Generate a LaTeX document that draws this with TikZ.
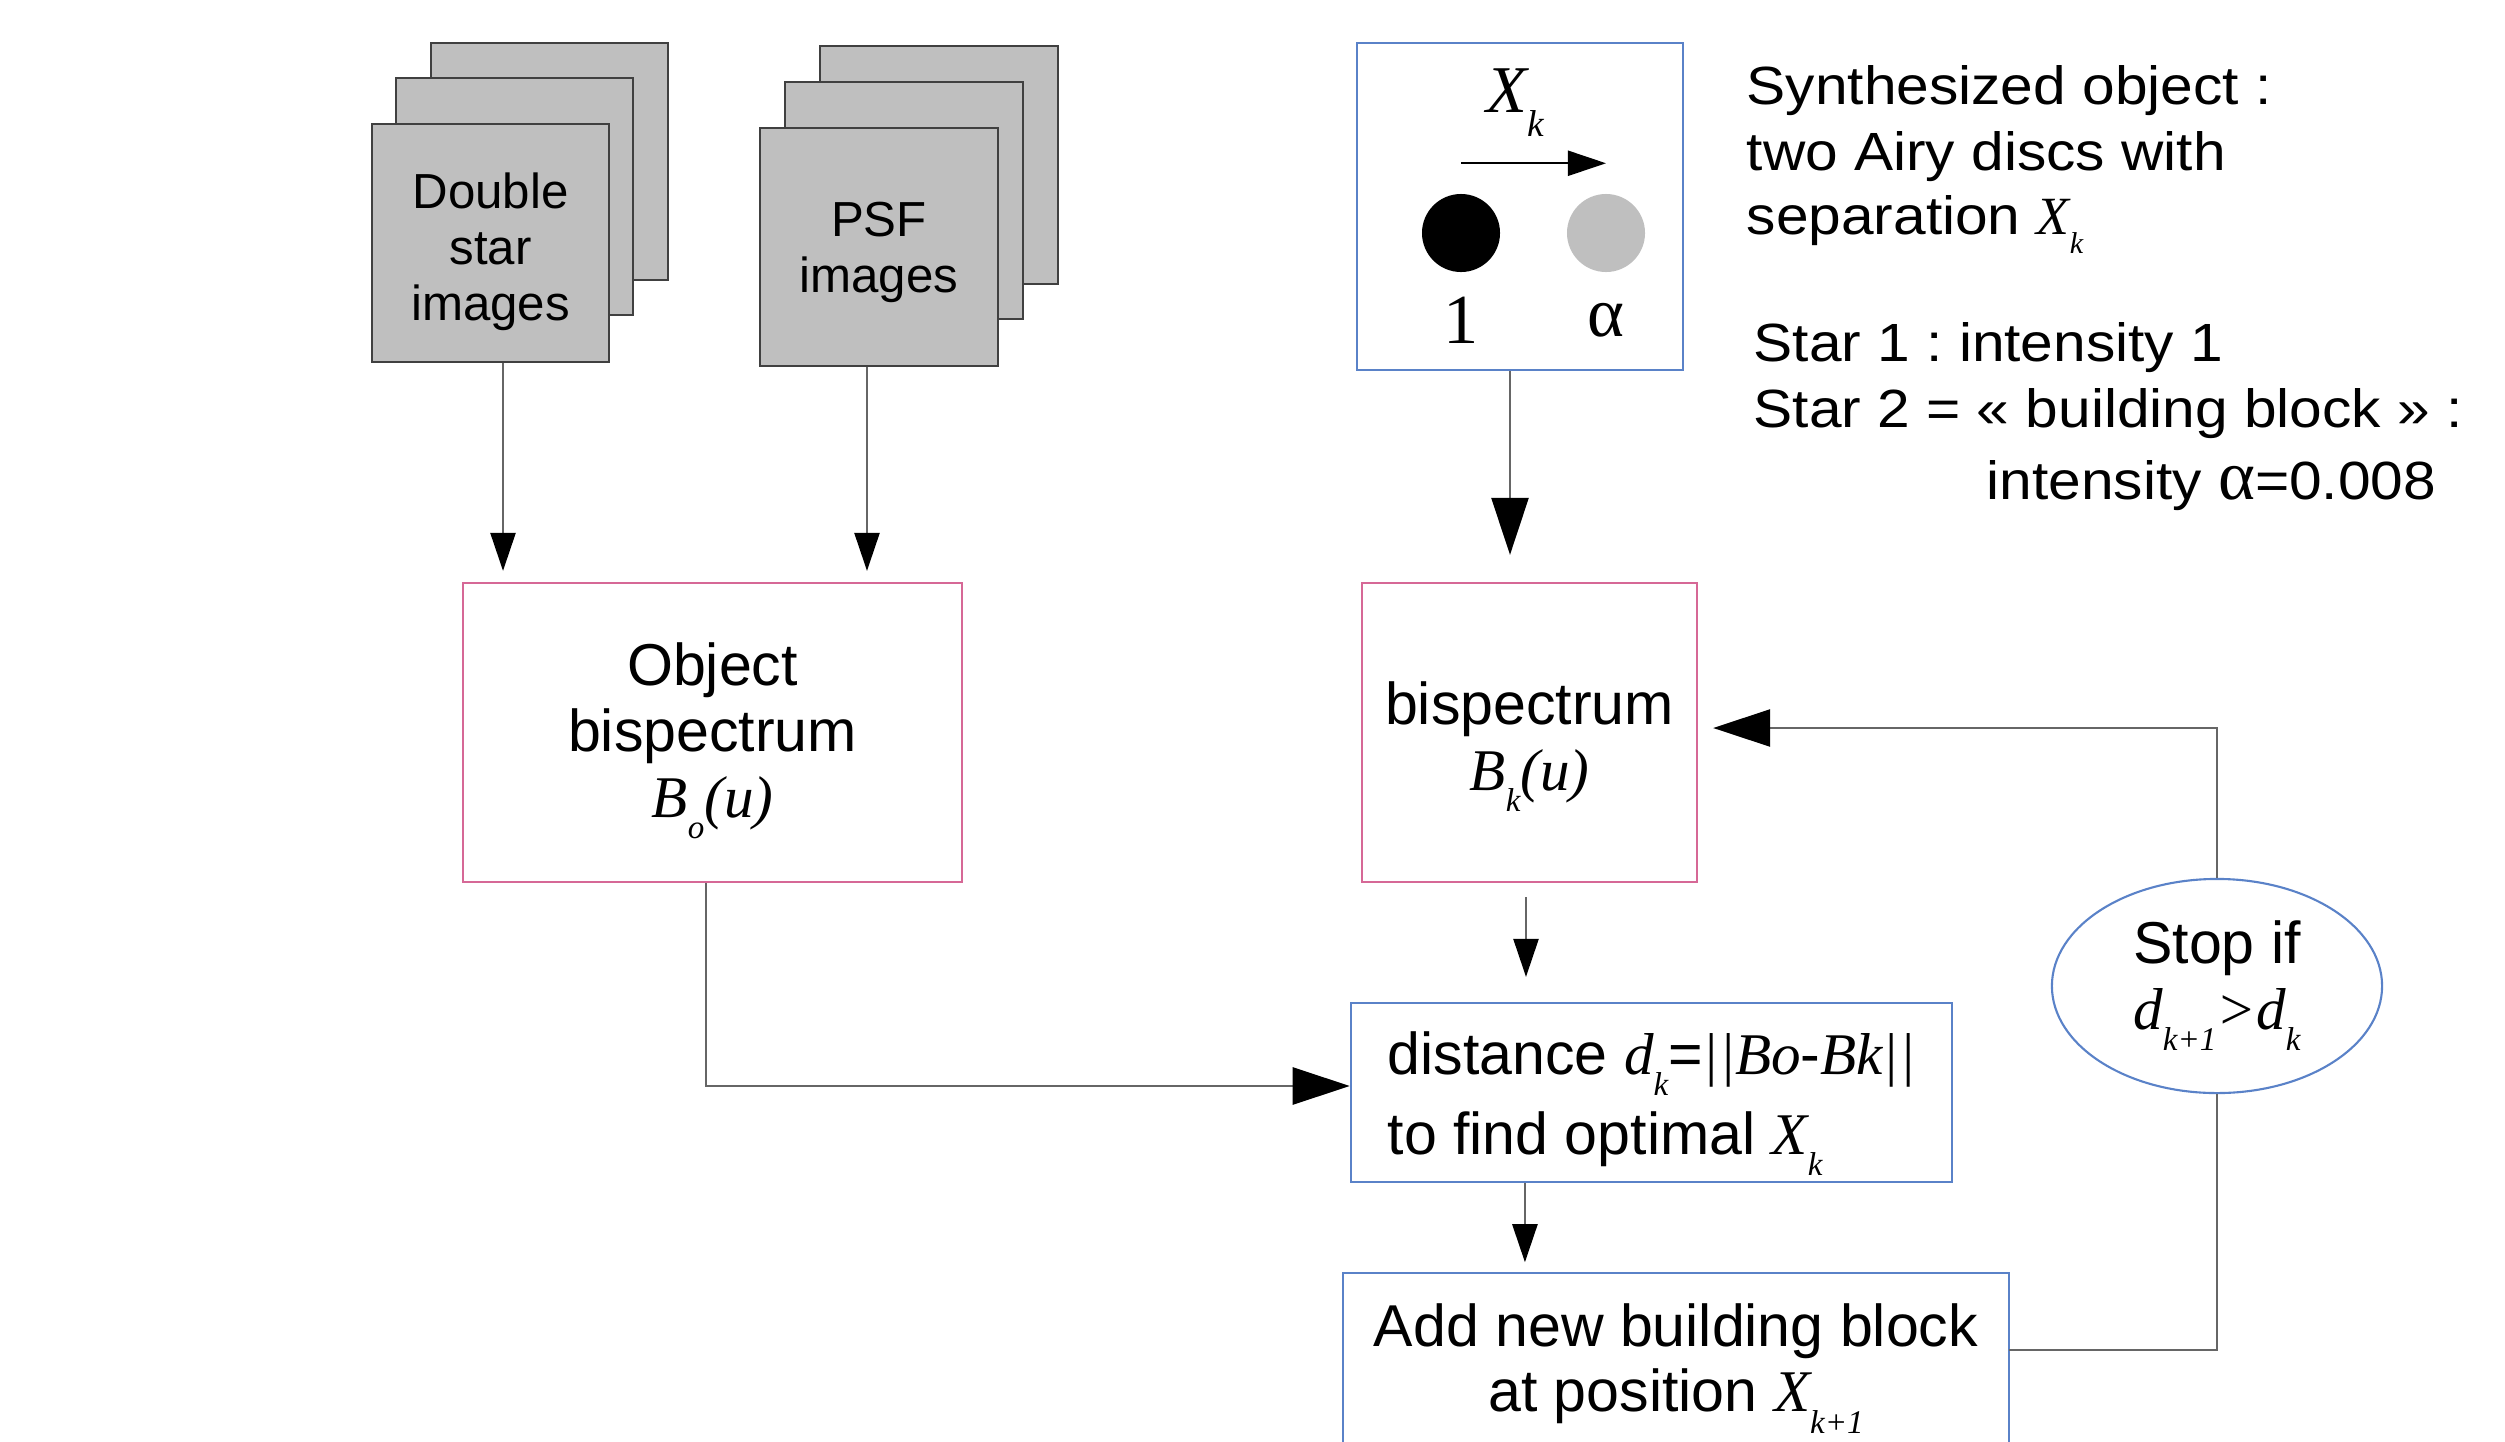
\documentclass[tikz,border=0pt]{standalone}
\usepackage{fontspec}
\usepackage{graphicx}
\setmainfont{Liberation Sans}
\newfontfamily\serif{Liberation Serif}
\newfontfamily\descfont{Liberation Sans}[FakeStretch=1.09]
\usetikzlibrary{arrows.meta,shapes.geometric,positioning}
\definecolor{pinkline}{RGB}{214,104,150}
\definecolor{blueline}{RGB}{90,130,200}
\newcommand{\ivar}[2]{{\serif\itshape #1}\raisebox{-0.36em}{\scalebox{0.56}{\serif\itshape #2}}}
\newcommand{\sit}[1]{{\serif\itshape #1}}
\newcommand{\push}[1]{\rule{0pt}{\dimexpr0.73em+#1\relax}}
\newcommand{\bigtxt}{\fontsize{16.8pt}{18.7pt}\selectfont}
\newcommand{\smalltxt}{\fontsize{14pt}{15.9pt}\selectfont}
\frenchspacing
\begin{document}
\begin{tikzpicture}[x=0.01cm,y=-0.01cm,
  sheet/.style={draw=black!75,fill=black!25,line width=0.6pt,minimum width=2.37cm,minimum height=2.37cm,inner sep=0pt,align=center,font=\smalltxt},
  pinkbox/.style={draw=pinkline,line width=0.6pt,align=center,inner sep=0pt,font=\bigtxt},
  bluebox/.style={draw=blueline,line width=0.6pt,inner sep=0pt,font=\bigtxt},
  desc/.style={inner sep=0pt,anchor=base west,font=\descfont\fontsize{15.3pt}{17pt}\selectfont},
  line/.style={draw=black!60,line width=0.7pt},
  arr/.style={line,-{Triangle[length=0.38cm,width=0.25cm,color=black]}},
  bigarr/.style={line,-{Triangle[length=0.57cm,width=0.37cm,color=black]}}]
\useasboundingbox (0,0) rectangle (2505,1442);

% image stacks
\node[sheet] (dsb) at (549.5,161.5) {};
\node[sheet] (dsm) at (514.5,196.5) {};
\node[sheet] (dsf) at (490.5,243) {\push{5.1pt}Double\\ star\\ images};
\node[sheet] (psb) at (939,165) {};
\node[sheet] (psm) at (904,200.5) {};
\node[sheet] (psf) at (879,247) {\push{2.8pt}PSF\\ images};

% synthesized object
\node[bluebox,minimum width=3.26cm,minimum height=3.27cm] (xk) at (1520,206.5) {};
\node[inner sep=0pt,anchor=base,font=\fontsize{19pt}{19pt}\selectfont] (xlab) at (1515,112) {\ivar{X}{k}};
\node[circle,fill=black,minimum size=0.78cm,inner sep=0pt] (d1) at (1461,233) {};
\node[circle,fill=black!25,minimum size=0.78cm,inner sep=0pt] (d2) at (1606,233) {};
\draw[line width=0.6pt,-{Triangle[length=0.38cm,width=0.25cm]}] ([yshift=0.3cm]d1.north) -- ([yshift=0.3cm]d2.north);
\node[inner sep=0pt,font=\serif\fontsize{20pt}{20pt}\selectfont] (one) at (1461,320) {1};
\node[inner sep=0pt,font=\serif\fontsize{20pt}{20pt}\selectfont] (alpha) at (1606,320) {α};

\node[desc] (syn1) at (1746,104) {Synthesized object :};
\node[desc] (syn2) at (1746,170) {two Airy discs with};
\node[desc] (syn3) at (1746,234) {separation \ivar{X}{k}};
\node[desc] (st1) at (1753,361) {Star 1 : intensity 1};
\node[desc] (st2) at (1753,427) {Star 2 = « building block » :};
\node[desc] (st3) at (1986,499) {intensity {\serif\fontsize{20pt}{20pt}\selectfont α}=0.008};

% bispectra
\node[pinkbox,minimum width=4.99cm,minimum height=2.99cm] (objb) at (712.5,732.5) {\push{4.6pt}Object\\ bispectrum\\ \ivar{B}{o}\sit{(u)}};
\node[pinkbox,minimum width=3.35cm,minimum height=2.99cm] (bk) at (1529.5,732.5) {\push{8pt}bispectrum\\ \ivar{B}{k}\sit{(u)}};

\node[bluebox,minimum width=6.01cm,minimum height=1.79cm,align=left] (dist) at (1651.5,1092.5) {\push{6.2pt}distance \ivar{d}{k}=\sit{||Bo}-\sit{Bk||}\\[4pt] to find optimal \ivar{X}{k}};
\node[minimum width=6.64cm,minimum height=1.76cm,align=center,inner sep=0pt,font=\bigtxt] (add) at (1676,1362) {\push{3.4pt}Add new building block\\ at position \ivar{X}{k+1}};
\draw[draw=blueline,line width=0.6pt] ([yshift=-1cm]add.south west) |- (add.north east) -- ([yshift=-1cm]add.south east);

\node[ellipse,draw=blueline,line width=0.6pt,minimum width=3.3cm,minimum height=2.14cm,inner sep=0pt,align=center,font=\bigtxt] (stop) at (2217,986) {Stop if\\ \ivar{d}{k+1}\sit{>}\ivar{d}{k}};

% connectors
\coordinate (dsout) at ([xshift=0.125cm]dsf.south);
\coordinate (psout) at ([xshift=-0.12cm]psf.south);
\coordinate (xkout) at ([xshift=-0.1cm]xk.south);
\coordinate (bkout) at ([xshift=-0.035cm]bk.south);
\coordinate (distout) at ([xshift=-1.265cm]dist.south);
\coordinate (objout) at ([xshift=-0.065cm]objb.south);
\draw[arr,shorten >=0.11cm] (dsout) -- (dsout |- objb.north);
\draw[arr,shorten >=0.11cm] (psout) -- (psout |- objb.north);
\draw[bigarr,shorten >=0.27cm] (xkout) -- (xkout |- bk.north);
\draw[arr,shorten <=0.14cm,shorten >=0.25cm] (bkout) -- (bkout |- dist.north);
\draw[arr,shorten >=0.11cm] (distout) -- (distout |- add.north);
\draw[bigarr] (objout) |- ([yshift=0.065cm]dist.west);
\draw[line] ([yshift=0.12cm]add.east) -| (stop.south);
\draw[bigarr,shorten >=0.15cm] (stop.north) |- ([yshift=0.045cm]bk.east);
\end{tikzpicture}
\end{document}
